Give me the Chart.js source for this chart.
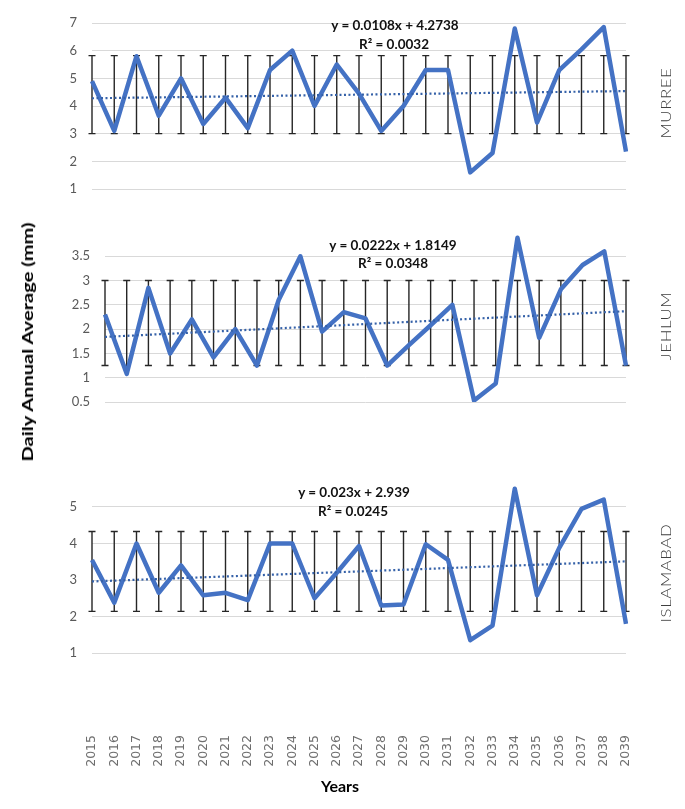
<!DOCTYPE html>
<html>
<head>
<meta charset="utf-8">
<script src="https://cdn.jsdelivr.net/npm/chart.js@4.4.0/dist/chart.umd.min.js"></script>
<style>
    body { margin: 0; background: #fff; }
    #page { position: relative; width: 685px; height: 809px; overflow: hidden; font-family: Lato, "Open Sans", sans-serif; }
    .panel { position: absolute; left: 0; }
    .eq { position: absolute; font-weight: bold; font-size: 13.5px; color: #111; white-space: nowrap; transform: translateX(-50%); line-height: 15px; }
    .side { position: absolute; white-space: nowrap; font-size: 14px; font-weight: 300; color: #404040; letter-spacing: 0.5px; transform: translate(-50%, -50%) rotate(-90deg) scaleX(1.2); }
    .ytitle { position: absolute; white-space: nowrap; font-size: 15px; font-weight: bold; color: #000; transform: translate(-50%, -50%) rotate(-90deg) scaleX(1.34); }
    .xtitle { position: absolute; font-size: 16px; font-weight: bold; color: #000; transform: translate(-50%, -50%); }
</style>
</head>
<body>
<div id="page">
    <div class="panel" style="top:0"><canvas id="murree" width="685" height="200"></canvas></div>
    <div class="panel" style="top:220px"><canvas id="jehlum" width="685" height="200"></canvas></div>
    <div class="panel" style="top:460px"><canvas id="islamabad" width="685" height="349"></canvas></div>

    <div class="eq" style="left:395px;top:18px">y = 0.0108x + 4.2738</div>
    <div class="eq" style="left:394px;top:37px">R² = 0.0032</div>
    <div class="eq" style="left:393px;top:238px">y = 0.0222x + 1.8149</div>
    <div class="eq" style="left:393px;top:256px">R² = 0.0348</div>
    <div class="eq" style="left:354px;top:485px">y = 0.023x + 2.939</div>
    <div class="eq" style="left:353px;top:504px">R² = 0.0245</div>

    <div class="side" style="left:665px;top:103px">MURREE</div>
    <div class="side" style="left:665px;top:326px">JEHLUM</div>
    <div class="side" style="left:665px;top:573px">ISLAMABAD</div>

    <div class="ytitle" style="left:27px;top:342px">Daily Annual Average (mm)</div>
    <div class="xtitle" style="left:340px;top:785px">Years</div>
</div>

<script>
const years = ['2015', '2016', '2017', '2018', '2019', '2020', '2021', '2022', '2023', '2024', '2025', '2026', '2027',
    '2028', '2029', '2030', '2031', '2032', '2033', '2034', '2035', '2036', '2037', '2038', '2039'];

const murree = [4.9, 3.1, 5.8, 3.65, 5.0, 3.35, 4.3, 3.2, 5.3, 6.0, 4.0, 5.5, 4.45,
    3.1, 4.0, 5.3, 5.3, 1.6, 2.3, 6.8, 3.4, 5.3, 6.05, 6.85, 2.35];
const jehlum = [2.3, 1.08, 2.85, 1.5, 2.2, 1.42, 2.0, 1.25, 2.6, 3.5, 1.95, 2.35, 2.22,
    1.25, 1.67, 2.08, 2.5, 0.53, 0.88, 3.88, 1.82, 2.82, 3.32, 3.6, 1.25];
const islamabad = [3.55, 2.38, 4.0, 2.65, 3.4, 2.58, 2.65, 2.45, 4.0, 4.0, 2.5, 3.2, 3.93,
    2.3, 2.33, 3.98, 3.55, 1.35, 1.75, 5.5, 2.58, 3.88, 4.95, 5.2, 1.8];

// error bar low / high (same for every year)
const murreeErr = [3.0, 5.82];
const jehlumErr = [1.25, 3.0];
const islamabadErr = [2.14, 4.33];

// linear trend value at 2015 and at 2039
const murreeTrend = [4.28, 4.54];
const jehlumTrend = [1.84, 2.37];
const islamabadTrend = [2.96, 3.51];

// y axis min, max, step per panel
const murreeTicks = [1, 7, 1];
const jehlumTicks = [0.5, 4, 0.5];
const islamabadTicks = [1, 6, 1];

const errorBars = {
    id: 'errorBars',
    beforeDatasetsDraw(chart, args, opts) {
        const {ctx, scales: {x, y}} = chart;
        const top = y.getPixelForValue(opts.range[1]);
        const bottom = y.getPixelForValue(opts.range[0]);
        ctx.save();
        ctx.strokeStyle = '#262626';
        ctx.lineWidth = 1.4;
        chart.data.labels.forEach((label, i) => {
            const px = x.getPixelForValue(i);
            ctx.beginPath();
            ctx.moveTo(px, top);
            ctx.lineTo(px, bottom);
            ctx.moveTo(px - 3.5, top);
            ctx.lineTo(px + 3.5, top);
            ctx.moveTo(px - 3.5, bottom);
            ctx.lineTo(px + 3.5, bottom);
            ctx.stroke();
        });
        ctx.restore();
    }
};

function makeChart(id, values, err, trend, ticks, left, padding, showX) {
    const [min, max, step] = ticks;
    const hideTop = max === 4 || max === 6;
    return new Chart(document.getElementById(id), {
        type: 'line',
        data: {
            labels: years,
            datasets: [{
                data: values,
                borderColor: '#4472C4',
                borderWidth: 4.5,
                pointRadius: 0,
                tension: 0,
                borderJoinStyle: 'round',
                order: 1
            }, {
                data: [{x: years[0], y: trend[0]}, {x: years[years.length - 1], y: trend[1]}],
                borderColor: '#3561a8',
                borderWidth: 2.2,
                borderDash: [2, 2.5],
                pointRadius: 0,
                order: 0
            }]
        },
        options: {
            responsive: false,
            animation: false,
            layout: {padding: padding},
            plugins: {
                legend: {display: false},
                tooltip: {enabled: false},
                errorBars: {range: err}
            },
            scales: {
                x: {
                    display: showX,
                    grid: {display: false},
                    border: {display: false},
                    ticks: {
                        autoSkip: false,
                        minRotation: 90,
                        maxRotation: 90,
                        padding: 74,
                        color: '#6e6e6e',
                        font: {family: 'DejaVu Sans', size: 12.5}
                    },
                    afterFit: (scale) => {
                        if (showX) scale.height = 156;
                        scale.paddingLeft = 0;
                        scale.paddingRight = 0;
                    }
                },
                y: {
                    min: min,
                    max: max,
                    border: {display: false},
                    grid: {
                        drawTicks: false,
                        color: (c) => (hideTop && c.tick && c.tick.value === max) ? 'rgba(0,0,0,0)' : '#d9d9d9'
                    },
                    ticks: {
                        stepSize: step,
                        padding: 15,
                        color: '#595959',
                        font: {family: 'Lato', size: 13},
                        callback: (v) => (hideTop && v === max) ? '' : v
                    },
                    afterFit: (scale) => {
                        scale.width = left;
                        scale.paddingTop = 0;
                        scale.paddingBottom = 0;
                    }
                }
            }
        },
        plugins: [errorBars]
    });
}

makeChart('murree', murree, murreeErr, murreeTrend, murreeTicks, 92, {top: 23, bottom: 11, right: 59, left: 0}, false);
makeChart('jehlum', jehlum, jehlumErr, jehlumTrend, jehlumTicks, 105, {top: 12, bottom: 18, right: 59, left: 0}, false);
makeChart('islamabad', islamabad, islamabadErr, islamabadTrend, islamabadTicks, 92, {top: 10.5, bottom: 0, right: 59, left: 0}, true);
</script>
</body>
</html>
